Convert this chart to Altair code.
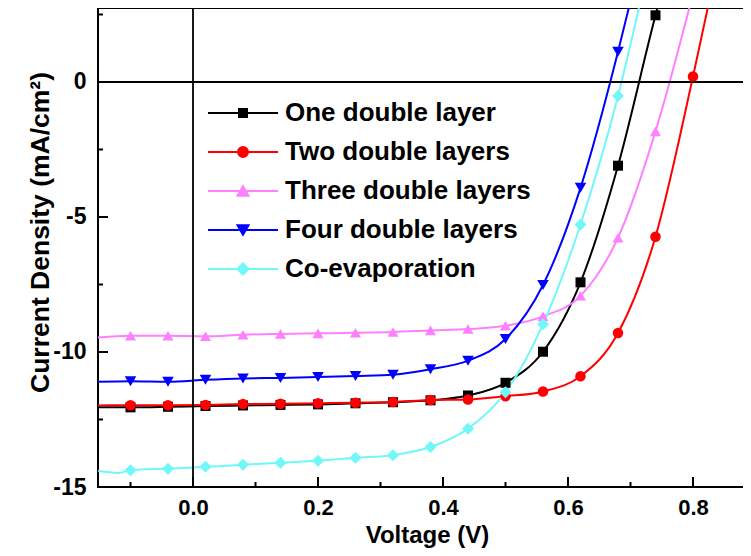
import altair as alt
import pandas as pd

FONT = "Liberation Sans"

SERIES = ["One double layer", "Two double layers", "Three double layers",
          "Four double layers", "Co-evaporation"]
COLORS = ["#000000", "#ff0000", "#ff80ff", "#0000ff", "#70f8f8"]
MARKERS = ["square", "circle", "triangle-up", "triangle-down", "diamond"]
MARKER_SIZES = [100, 144, 170, 170, 170]
# legend symbols: a line through the marker (unit = 24.5 px)
LEGEND_SYMBOLS = [
    "M-1.43,0H1.43M-0.163,-0.163H0.163V0.163H-0.163Z",
    "M-1.43,0H1.43M0.204,0A0.204,0.204,0,1,1,-0.204,0A0.204,0.204,0,1,1,0.204,0Z",
    "M-1.43,0H1.43M0,-0.194L0.224,0.194L-0.224,0.194Z",
    "M-1.43,0H1.43M0,0.194L0.224,-0.194L-0.224,-0.194Z",
    "M-1.43,0H1.43M0,-0.224L0.224,0L0,0.224L-0.224,0Z",
]

# marker voltages (V)
V_MARK = [-0.10, -0.04, 0.02, 0.08, 0.14, 0.20, 0.26, 0.32, 0.38, 0.44,
          0.50, 0.56, 0.62, 0.68, 0.74, 0.80]

# current density at the markers (mA/cm2)
J_ONE = [-12.05, -12.03, -12.00, -11.98, -11.96, -11.94, -11.90, -11.86,
         -11.79, -11.61, -11.14, -9.99, -7.42, -3.10, 2.47]
J_TWO = [-11.97, -11.97, -11.96, -11.93, -11.92, -11.90, -11.88, -11.85,
         -11.78, -11.76, -11.64, -11.46, -10.90, -9.30, -5.73, 0.20]
J_THREE = [-9.40, -9.40, -9.42, -9.36, -9.33, -9.31, -9.29, -9.26, -9.20,
           -9.15, -9.03, -8.68, -7.92, -5.77, -1.83]
J_FOUR = [-11.08, -11.10, -11.03, -10.98, -10.96, -10.93, -10.89, -10.84,
          -10.64, -10.32, -9.52, -7.52, -3.92, 1.12]
J_CO = [-14.38, -14.32, -14.25, -14.18, -14.10, -14.03, -13.92, -13.82,
        -13.52, -12.84, -11.49, -8.97, -5.28, -0.52]
J_ALL = [J_ONE, J_TWO, J_THREE, J_FOUR, J_CO]

# curve ends: value at the left edge and where each curve leaves the top
START_V = -0.152
START_J = [-12.05, -11.98, -9.46, -11.10, -14.40]
CO_DIP_V, CO_DIP_J = -0.12, -14.48
END_V = [0.746, 0.826, 0.797, 0.700, 0.716]
END_J = 3.0

X_DOMAIN = [-0.152, 0.9]
Y_DOMAIN = [-15, 2.74]
X_LABELS = [0.0, 0.2, 0.4, 0.6, 0.8]
X_MINOR = [-0.1, 0.1, 0.3, 0.5, 0.7]
Y_LABELS = [-15, -10, -5, 0]
Y_MINOR = [-12.5, -7.5, -2.5, 2.5]

W, H = 657.5, 479

pts, lines = [], []
for name, js, sj, ev in zip(SERIES, J_ALL, START_J, END_V):
    lines.append({"series": name, "V": START_V, "J": sj})
    if name == "Co-evaporation":
        lines.append({"series": name, "V": CO_DIP_V, "J": CO_DIP_J})
    for v, j in zip(V_MARK, js):
        pts.append({"series": name, "V": v, "J": j})
        lines.append({"series": name, "V": v, "J": j})
    lines.append({"series": name, "V": ev, "J": END_J})
df_pts = pd.DataFrame(pts)
df_lines = pd.DataFrame(lines)
df_leg = pd.DataFrame({"series": SERIES, "V": [0.0] * 5, "J": [0.0] * 5})

xs = alt.Scale(domain=X_DOMAIN, nice=False, zero=False)
ys = alt.Scale(domain=Y_DOMAIN, nice=False, zero=False)

xaxis = alt.Axis(values=X_LABELS, format=".1f", ticks=False, domain=False, grid=False,
                 labelFont=FONT, labelFontSize=22, labelFontWeight="bold",
                 labelColor="black", labelPadding=10, labelFlush=False,
                 title="Voltage (V)", titleFont=FONT, titleFontSize=24,
                 titleFontWeight="bold", titleColor="black", titleX=329, titleY=55.5,
                 titleBaseline="alphabetic", titleAlign="center")
yaxis = alt.Axis(values=Y_LABELS, format="d", ticks=False, domain=False, grid=False,
                 labelFont=FONT, labelFontSize=23, labelFontWeight="bold",
                 labelColor="black", labelPadding=12, labelFlush=False,
                 labelExpr="replace(datum.label, '\u2212', '-')",
                 title="Current Density (mA/cm\u00b2)", titleFont=FONT,
                 titleFontSize=26.5, titleFontWeight="bold", titleColor="black",
                 titleX=-50, titleY=224, titleAngle=270,
                 titleBaseline="alphabetic", titleAlign="center")

cscale = alt.Scale(domain=SERIES, range=COLORS)

X_ENC = alt.X("V:Q", scale=xs, axis=xaxis)
Y_ENC = alt.Y("J:Q", scale=ys, axis=yaxis)

line_layer = alt.Chart(df_lines).mark_line(interpolate="monotone", strokeWidth=2, clip=True).encode(
    x=X_ENC, y=Y_ENC,
    color=alt.Color("series:N", scale=cscale, legend=None),
    detail="series:N",
)

zero_v = alt.Chart(pd.DataFrame({"V": [0.0]})).mark_rule(color="black", strokeWidth=1.8).encode(
    x=X_ENC)
zero_h = alt.Chart(pd.DataFrame({"J": [0.0]})).mark_rule(color="black", strokeWidth=1.8).encode(
    y=Y_ENC)

ymaj = alt.Chart(pd.DataFrame({"J": Y_LABELS})).mark_rule(color="black", strokeWidth=2).encode(
    y=Y_ENC, x=alt.value(0), x2=alt.value(10))
ymin = alt.Chart(pd.DataFrame({"J": Y_MINOR})).mark_rule(color="black", strokeWidth=2).encode(
    y=Y_ENC, x=alt.value(0), x2=alt.value(5))
xmaj = alt.Chart(pd.DataFrame({"V": X_LABELS})).mark_rule(color="black", strokeWidth=2).encode(
    x=X_ENC, y=alt.value(H), y2=alt.value(H - 10))
xmin = alt.Chart(pd.DataFrame({"V": X_MINOR})).mark_rule(color="black", strokeWidth=2).encode(
    x=X_ENC, y=alt.value(H), y2=alt.value(H - 5))

point_layer = alt.Chart(df_pts).mark_point(filled=True, opacity=1, strokeWidth=0).encode(
    x=X_ENC, y=Y_ENC,
    color=alt.Color("series:N", scale=cscale, legend=None),
    shape=alt.Shape("series:N", scale=alt.Scale(domain=SERIES, range=MARKERS), legend=None),
    size=alt.Size("series:N", scale=alt.Scale(domain=SERIES, range=MARKER_SIZES), legend=None),
)

leg = alt.Legend(title=None, orient="none", legendX=119.5, legendY=79.5,
                 symbolSize=2401, symbolStrokeWidth=2, symbolOpacity=1,
                 labelFont=FONT, labelFontSize=26, labelFontWeight="bold",
                 labelColor="black", labelOffset=16.5, labelLimit=500, rowPadding=0)

legend_layer = alt.Chart(df_leg).mark_point(filled=True, opacity=0).encode(
    x=X_ENC, y=Y_ENC,
    fill=alt.Fill("series:N", scale=alt.Scale(domain=SERIES, range=COLORS), legend=leg),
    stroke=alt.Stroke("series:N", scale=alt.Scale(domain=SERIES, range=COLORS), legend=leg),
    shape=alt.Shape("series:N", scale=alt.Scale(domain=SERIES, range=LEGEND_SYMBOLS), legend=leg),
)

chart = alt.layer(
    line_layer, zero_v, zero_h, ymaj, ymin, xmaj, xmin, point_layer, legend_layer
).resolve_scale(
    shape="independent", fill="independent", stroke="independent"
).properties(
    width=W, height=H,
    padding={"left": 90, "top": 0, "right": -12.5, "bottom": 61},
    autosize=alt.AutoSizeParams(type="none"),
    background="white",
).configure_view(stroke="black", strokeWidth=2)

chart.save("out.html", embed_options={"renderer": "svg", "actions": False})
